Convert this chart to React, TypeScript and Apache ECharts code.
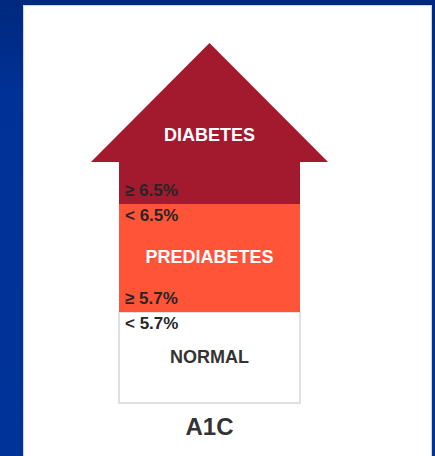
import React, { useEffect, useRef } from "react";
import * as echarts from "echarts";

// Bands from bottom to top (abstract height units along the arrow shaft)
const bandNames = ["NORMAL", "PREDIABETES", "DIABETES"];
const bandHeights = [91, 108, 42];
const bandColors = ["#FFFFFF", "#FF5438", "#A3192E"];
const nameColors = ["#333333", "#FFFFFF", "#FFFFFF"];
const upperLabels = ["< 5.7%", "< 6.5%", ""];
const lowerLabels = ["", "≥ 5.7%", "≥ 6.5%"];
const headHeight = 119;
const categories = ["A1C"];

const FONT = "'Liberation Sans', Arial, Helvetica, sans-serif";

export default function App() {
  const ref = useRef<HTMLDivElement>(null);

  useEffect(() => {
    document.body.style.margin = "0";
    if (!ref.current) return;
    const chart = echarts.init(ref.current, undefined, { renderer: "svg" });

    const items: any[] = [];
    let acc = 0;
    bandHeights.forEach((h, i) => {
      items.push({ value: [0, acc, acc + h], kind: "band", idx: i });
      acc += h;
    });
    items.push({ value: [0, acc, acc + headHeight], kind: "head", idx: 2 });
    const total = acc + headHeight;

    const renderItem = (params: any, api: any) => {
      const item = items[params.dataIndex];
      const lo = api.value(1);
      const hi = api.value(2);
      const pLo = api.coord([api.value(0), lo]);
      const pHi = api.coord([api.value(0), hi]);
      const bw = api.size([1, 0])[0];
      const cx = pLo[0];
      const left = cx - bw / 2;
      if (item.kind === "head") {
        const hw = bw * 0.655;
        return {
          type: "group",
          children: [
            {
              type: "polygon",
              shape: { points: [[cx - hw, pLo[1]], [cx + hw, pLo[1]], [cx, pHi[1]]] },
              style: { fill: bandColors[2] },
            },
            {
              type: "text",
              x: cx,
              y: pLo[1] - 27,
              style: {
                text: bandNames[2],
                fill: nameColors[2],
                font: `bold 18px ${FONT}`,
                align: "center",
                verticalAlign: "middle",
              },
            },
          ],
        };
      }
      const i = item.idx;
      const children: any[] = [
        {
          type: "rect",
          shape: { x: left, y: pHi[1], width: bw, height: pLo[1] - pHi[1] },
          style: {
            fill: bandColors[i],
            stroke: i === 0 ? "#D6D6D6" : "none",
            lineWidth: i === 0 ? 1.5 : 0,
          },
        },
      ];
      if (i !== 2) {
        children.push({
          type: "text",
          x: cx,
          y: (pLo[1] + pHi[1]) / 2 - 1,
          style: {
            text: bandNames[i],
            fill: nameColors[i],
            font: `bold 18px ${FONT}`,
            align: "center",
            verticalAlign: "middle",
          },
        });
      }
      if (upperLabels[i]) {
        children.push({
          type: "text",
          x: left + 6,
          y: pHi[1] + 11,
          style: {
            text: upperLabels[i],
            fill: "#262626",
            font: `bold 17px ${FONT}`,
            align: "left",
            verticalAlign: "middle",
          },
        });
      }
      if (lowerLabels[i]) {
        children.push({
          type: "text",
          x: left + 6,
          y: pLo[1] - 14,
          style: {
            text: lowerLabels[i],
            fill: "#262626",
            font: `bold 17px ${FONT}`,
            align: "left",
            verticalAlign: "middle",
          },
        });
      }
      return { type: "group", children };
    };

    chart.setOption({
      animation: false,
      grid: { left: 119, right: 135, top: 43, bottom: 53 },
      xAxis: {
        type: "category",
        data: categories,
        axisLine: { show: false },
        axisTick: { show: false },
        axisLabel: {
          show: true,
          margin: 11,
          color: "#333333",
          fontSize: 24,
          fontWeight: "bold",
          fontFamily: FONT,
        },
      },
      yAxis: {
        type: "value",
        min: 0,
        max: total,
        show: false,
        splitLine: { show: false },
      },
      series: [
        {
          type: "custom",
          renderItem,
          data: items.map((d) => d.value),
          clip: false,
        },
      ],
    });
    return () => chart.dispose();
  }, []);

  return (
    <div
      style={{
        position: "relative",
        width: 435,
        height: 456,
        background: "linear-gradient(180deg, #00287D 0%, #003196 20%, #003399 100%)",
        overflow: "hidden",
      }}
    >
      <div
        style={{
          position: "absolute",
          left: 24,
          top: 6,
          width: 407,
          height: 450,
          background: "#FFFFFF",
          boxShadow: "0 0 0 1px #C9D2EA",
        }}
      />
      <div ref={ref} style={{ position: "absolute", left: 0, top: 0, width: 435, height: 456 }} />
    </div>
  );
}
